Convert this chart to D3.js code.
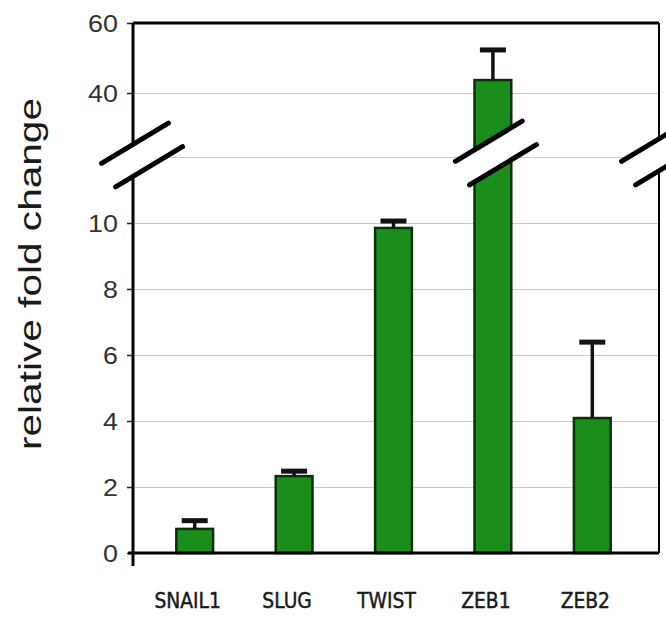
<!DOCTYPE html>
<html>
<head>
<meta charset="utf-8">
<script src="https://cdn.jsdelivr.net/npm/d3@7"></script>
<style>
  html, body { margin: 0; padding: 0; background: #fff; }
  svg { display: block; }
</style>
</head>
<body>
<svg id="chart" width="666" height="617"></svg>
<script>
// ---- data ----
const categories = ["SNAIL1", "SLUG", "TWIST", "ZEB1", "ZEB2"];
const values = [0.73, 2.33, 9.85, 43.7, 4.09];
const errors = [0.25, 0.15, 0.21, 8.6, 2.3];
const lowerTickValues = [0, 2, 4, 6, 8, 10];
const upperTickValues = [40, 60];
const lowerGridValues = [2, 4, 6, 8, 10, 12];
const upperGridValues = [40];
const lowerDomain = [0, 12];
const upperDomain = [20, 60];
const yTitle = "relative fold change";

(function () {
// ---- layout ----
const svg = d3.select("#chart");
const pL = 133, pR = 659, pT = 23, pB = 553;
const lowerTopPx = 157, upperBottomPx = 163;

const x = d3.scaleBand().domain(categories).range([145, 642])
  .paddingInner(0.63).paddingOuter(0.315);
const yLow = d3.scaleLinear().domain(lowerDomain).range([pB, lowerTopPx]);
const yUp = d3.scaleLinear().domain(upperDomain).range([upperBottomPx, pT]);
const y = v => (v <= lowerDomain[1] ? yLow(v) : yUp(v));

const data = categories.map((c, i) => ({ c, v: values[i], e: errors[i] }));

// ---- gridlines ----
const gridStyle = g => {
  g.select(".domain").remove();
  g.selectAll("line").attr("stroke", "#c9c9c9").attr("stroke-width", 1);
};
svg.append("g").attr("transform", `translate(${pL},0)`)
  .call(d3.axisLeft(yLow).tickValues(lowerGridValues).tickSize(-(pR - pL)).tickFormat(""))
  .call(gridStyle);
svg.append("g").attr("transform", `translate(${pL},0)`)
  .call(d3.axisLeft(yUp).tickValues(upperGridValues).tickSize(-(pR - pL)).tickFormat(""))
  .call(gridStyle);

// ---- bars ----
const green = "#1a8d1a";
svg.append("g").selectAll("rect").data(data).join("rect")
  .attr("x", d => x(d.c))
  .attr("width", x.bandwidth())
  .attr("y", d => y(d.v))
  .attr("height", d => y(0) - y(d.v))
  .attr("fill", green)
  .attr("stroke", "#0a300a")
  .attr("stroke-width", 2.5);

// ---- error bars (upper half) ----
const eg = svg.append("g");
eg.selectAll("line.stem").data(data).join("line").attr("class", "stem")
  .attr("x1", d => x(d.c) + x.bandwidth() / 2)
  .attr("x2", d => x(d.c) + x.bandwidth() / 2)
  .attr("y1", d => y(d.v))
  .attr("y2", d => y(d.v + d.e))
  .attr("stroke", "#111").attr("stroke-width", 3.5);
eg.selectAll("line.cap").data(data).join("line").attr("class", "cap")
  .attr("x1", d => x(d.c) + x.bandwidth() / 2 - 13)
  .attr("x2", d => x(d.c) + x.bandwidth() / 2 + 13)
  .attr("y1", d => y(d.v + d.e))
  .attr("y2", d => y(d.v + d.e))
  .attr("stroke", "#111").attr("stroke-width", 5);

// ---- axes & frame ----
const tickLabelStyle = g => {
  g.select(".domain").remove();
  g.selectAll("line").attr("stroke", "#222").attr("stroke-width", 1.5);
  g.selectAll("text")
    .attr("font-family", "'Liberation Sans', Arial, sans-serif")
    .attr("font-size", 24)
    .attr("fill", "#333")
    .attr("x", -15 / 1.12)
    .attr("dy", "0.36em")
    .attr("transform", "scale(1.12,1)");
};
svg.append("g").attr("transform", `translate(${pL},0)`)
  .call(d3.axisLeft(yLow).tickValues(lowerTickValues).tickSize(6).tickPadding(9))
  .call(tickLabelStyle);
svg.append("g").attr("transform", `translate(${pL},0)`)
  .call(d3.axisLeft(yUp).tickValues(upperTickValues).tickSize(6).tickPadding(9))
  .call(tickLabelStyle);

const frame = svg.append("g").attr("stroke", "#000").attr("fill", "none");
frame.append("line").attr("x1", pL).attr("x2", pR).attr("y1", pT).attr("y2", pT).attr("stroke-width", 3);
frame.append("line").attr("x1", pR).attr("x2", pR).attr("y1", pT).attr("y2", pB).attr("stroke-width", 2);
frame.append("line").attr("x1", pL - 5).attr("x2", pR).attr("y1", pB).attr("y2", pB).attr("stroke-width", 3);
frame.append("line").attr("x1", pL).attr("x2", pL).attr("y1", pT).attr("y2", pB + 13).attr("stroke-width", 3);

// ---- x labels ----
const xa = svg.append("g").attr("transform", `translate(0,${pB})`)
  .call(d3.axisBottom(x).tickSize(0));
xa.select(".domain").remove();
xa.selectAll("text")
  .attr("font-family", "'DejaVu Sans', Verdana, sans-serif")
  .attr("font-size", 22)
  .attr("fill", "#1a1a1a")
  .attr("stroke", "#1a1a1a")
  .attr("stroke-width", 0.5)
  .attr("y", 55)
  .attr("dy", 0)
  .attr("x", -7 / 0.85)
  .attr("transform", "scale(0.85,1)");

// ---- y title ----
svg.append("text")
  .attr("transform", "translate(41,274) rotate(-90)")
  .attr("text-anchor", "middle")
  .attr("font-family", "'Liberation Sans', Arial, sans-serif")
  .attr("font-size", 32)
  .attr("fill", "#1a1a1a")
  .attr("textLength", 352)
  .attr("lengthAdjust", "spacingAndGlyphs")
  .text(yTitle);

// ---- axis break marks ----
const ang = 31 * Math.PI / 180;
const along = [Math.cos(ang), -Math.sin(ang)];
const perp = [Math.sin(ang), Math.cos(ang)];
const half = 39, gap = 27.5;
const breakY = yLow(lowerDomain[1]) - 4;
const breaks = [
  { cx: pL + 9, cy: breakY + 2 },
  { cx: x("ZEB1") + x.bandwidth() / 2 + 3, cy: breakY },
  { cx: pR + 3, cy: breakY }
];
const bg = svg.append("g");
breaks.forEach(b => {
  const pt = (a, p) => [b.cx + along[0] * a + perp[0] * p, b.cy + along[1] * a + perp[1] * p];
  const poly = [pt(-half, -gap / 2), pt(half, -gap / 2), pt(half, gap / 2), pt(-half, gap / 2)];
  bg.append("polygon").attr("points", poly.map(p => p.join(",")).join(" "))
    .attr("fill", "#fff").attr("stroke", "none");
  [-gap / 2, gap / 2].forEach(p => {
    const a = pt(-half, p), c = pt(half, p);
    bg.append("line").attr("x1", a[0]).attr("y1", a[1]).attr("x2", c[0]).attr("y2", c[1])
      .attr("stroke", "#000").attr("stroke-width", 5).attr("stroke-linecap", "round");
  });
});
})();
</script>
</body>
</html>
